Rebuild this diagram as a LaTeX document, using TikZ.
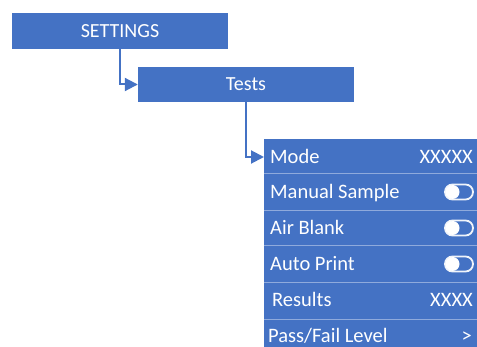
\documentclass[tikz,border=0pt]{standalone}
\usepackage{fontspec}
\setmainfont{Carlito}
\usetikzlibrary{arrows.meta}
\definecolor{obl}{HTML}{4472C4}
\definecolor{sep}{HTML}{8FAADC}
\tikzset{
  hbox/.style={fill=obl, draw=none, text=white, font=\fontsize{20}{22}\selectfont, inner sep=0pt},
  conn/.style={draw=obl, line width=2pt, -{Triangle[length=13pt,width=13pt]}},
  lbl/.style={text=white, font=\fontsize{20.5}{22}\selectfont, inner sep=0pt, text height=13.2pt, text depth=0pt},
  sepline/.style={draw=sep, line width=1pt},
  toggle/.pic={
    \draw[white!92!obl, line width=1.8pt, rounded corners=7.5pt] (-14pt,-7.5pt) rectangle (14pt,7.5pt);
    \fill[white] (-6.5pt,0pt) circle (7pt);
  }
}
\begin{document}
\begin{tikzpicture}[x=1pt,y=1pt]
\useasboundingbox (0,0) rectangle (477,-347);
\node[hbox, minimum width=216pt, minimum height=36pt] (settings) at (120,-31) {SETTINGS};
\node[hbox, minimum width=216pt, minimum height=35pt] (tests) at (246,-84.5) {Tests};
\node[fill=obl, inner sep=0pt, minimum width=213pt, minimum height=208pt, anchor=north west] (list) at (264,-139) {};
% separators
\foreach \y in {174,211,246,283,320} {
  \draw[sepline] (264,-\y) -- (477,-\y);
}
% labels
\node[lbl, anchor=west] (mode) at (270,-157) {Mode};
\node[lbl, anchor=west] (manual) at (270,-192) {Manual Sample};
\node[lbl, anchor=west] (air) at (270,-228) {Air Blank};
\node[lbl, anchor=west] (auto) at (270,-264) {Auto Print};
\node[lbl, anchor=west] (results) at (272,-300) {Results};
\node[lbl, anchor=west] (pass) at (268,-336) {Pass/Fail Level};
\node[lbl, anchor=east] (modev) at (473,-157) {XXXXX};
\node[lbl, anchor=east] (resultsv) at (473,-300) {XXXX};
\node[lbl, anchor=east] (passv) at (472,-336) {>};
\pic at (459,-192) {toggle};
\pic at (459,-228) {toggle};
\pic at (459,-264) {toggle};
% connectors
\draw[conn] (settings.south) |- (tests.west);
\draw[conn] (tests.south) |- (mode.west -| list.west);
\end{tikzpicture}
\end{document}
